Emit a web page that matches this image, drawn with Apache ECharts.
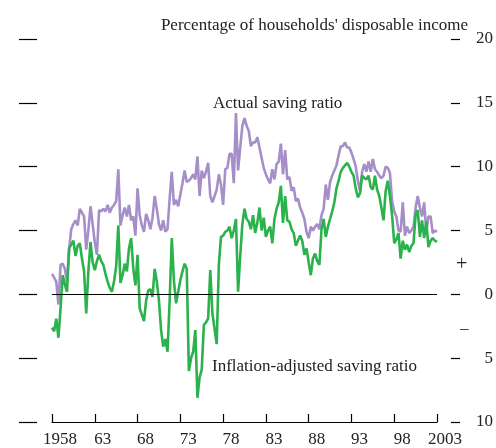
<!DOCTYPE html>
<html>
<head>
<meta charset="utf-8">
<script src="https://cdn.jsdelivr.net/npm/echarts@6/dist/echarts.min.js"></script>
<style>
  html, body { margin: 0; padding: 0; background: #fff; }
  #main { width: 496px; height: 448px; }
</style>
</head>
<body>
<div id="main"></div>
<script>
// quarterly, 1958Q1 .. 2003Q1
var startYear = 1958;
var tickLabels = ['1958', '63', '68', '73', '78', '83', '88', '93', '98', '2003'];

// Actual saving ratio (% of households' disposable income)
var actualSaving = [
  1.6, 1.3, 1.0, -0.8, 2.3, 2.4, 2.0, 1.0, 3.5, 5.1,
  5.5, 5.8, 5.4, 6.7, 6.4, 6.1, 3.5, 5.0, 6.9, 5.5,
  4.1, 3.1, 6.6, 6.5, 6.7, 6.5, 7.0, 6.4, 6.8, 7.0,
  7.3, 9.8, 5.4, 6.2, 6.8, 6.1, 7.0, 5.8, 6.1, 4.6,
  8.3, 6.2, 5.4, 4.9, 6.3, 5.8, 5.1, 6.0, 7.7, 6.7,
  5.5, 5.0, 5.8, 4.9, 5.1, 7.5, 9.6, 7.0, 7.4, 6.9,
  7.8, 8.7, 9.7, 8.8, 8.9, 9.1, 9.4, 9.0, 10.8, 7.7,
  9.7, 9.1, 9.6, 10.3, 7.7, 7.2, 7.7, 8.2, 9.4, 8.6,
  7.0, 9.8, 9.9, 11.0, 11.0, 8.7, 14.2, 9.7, 11.5, 13.2,
  13.8, 13.2, 12.8, 11.6, 11.9, 11.9, 12.3, 11.5, 10.7, 9.9,
  9.4, 9.0, 8.7, 9.8, 9.0, 10.2, 10.4, 11.8, 9.4, 11.3,
  9.0, 9.2, 8.1, 8.4, 7.3, 7.5, 6.8, 6.4, 5.9, 4.9,
  4.4, 5.3, 5.0, 5.3, 5.5, 5.1, 6.2, 6.7, 8.6, 7.4,
  8.8, 9.3, 9.7, 10.1, 10.9, 11.6, 11.6, 11.9, 11.5, 11.5,
  11.1, 10.6, 10.0, 8.9, 8.1, 9.6, 10.2, 9.6, 10.4, 9.6,
  10.6, 9.8, 9.6, 9.3, 9.1, 9.3, 10.0, 9.9, 9.5, 7.3,
  6.5, 6.1, 5.0, 4.9, 7.2, 4.6, 5.3, 4.8, 5.0, 5.3,
  6.8, 7.7, 6.8, 6.1, 7.2, 4.9, 6.1, 6.1, 4.8, 5.0,
  4.9
];

// Inflation-adjusted saving ratio
var adjustedSaving = [
  -2.6, -2.9, -1.9, -3.4, -1.1, 1.5, 0.8, 0.2, 3.6, 3.9,
  4.2, 3.0, 3.8, 4.0, 2.8, 1.8, -1.5, 1.8, 4.1, 2.5,
  1.9, 2.6, 3.1, 2.6, 2.3, 1.6, 1.0, 0.5, 0.2, 1.0,
  2.2, 5.4, 0.9, 1.5, 2.4, 1.8, 3.6, 4.4, 2.0, 0.7,
  3.1, -1.1, -1.6, -2.1, -0.5, 0.3, 0.4, -0.2, 2.0, 1.0,
  -0.5, -2.8, -4.1, -3.5, -4.5, -0.5, 4.4, 1.1, -0.7, 0.2,
  1.1, 1.8, 2.4, 2.0, -6.0, -5.0, -4.5, -2.8, -8.1, -6.5,
  -5.9, -2.4, -2.2, -1.9, 1.9, -1.5, -2.7, -3.9, 2.3, 4.5,
  4.6, 4.9, 5.0, 5.3, 4.4, 5.0, 5.9, 0.2, 3.0, 5.5,
  6.7, 5.9, 5.7, 5.1, 6.2, 4.8, 5.6, 6.8, 5.0, 6.0,
  4.5, 5.0, 5.3, 4.0, 5.9, 6.7, 7.2, 8.5, 5.6, 7.7,
  5.8, 5.7, 5.1, 4.8, 3.8, 4.2, 4.6, 4.2, 3.1, 3.6,
  2.5, 1.5, 2.8, 3.2, 2.6, 2.3, 5.1, 5.9, 4.5, 5.3,
  5.9, 6.5, 7.2, 8.3, 8.9, 9.6, 9.9, 10.1, 10.3, 10.0,
  9.6, 9.3, 8.3, 7.6, 7.9, 9.3, 9.1, 9.0, 9.3, 8.4,
  8.2, 9.3, 8.2, 7.7, 6.8, 5.8, 8.1, 8.9, 7.7, 6.2,
  4.0, 4.3, 4.8, 2.8, 4.2, 3.5, 3.9, 3.3, 3.8, 4.0,
  6.2, 6.6, 4.5, 5.8, 4.4, 5.7, 3.7, 4.2, 4.4, 4.2,
  4.1
];

var quarters = [];
for (var i = 0; i < actualSaving.length; i++) {
  quarters.push((startYear + Math.floor(i / 4)) + 'Q' + (i % 4 + 1));
}

var serif = '"Liberation Serif", "DejaVu Serif", serif';
var isTick = function (idx) { return idx % 20 === 0; };

var myChart = echarts.init(document.getElementById('main'));

var option = {
  animation: false,
  backgroundColor: '#fff',
  grid: { left: 52, right: 59, top: 39, bottom: 24 },
  xAxis: {
    type: 'category',
    data: quarters,
    boundaryGap: false,
    axisLine: { onZero: false, lineStyle: { color: '#000', width: 1.2 } },
    axisTick: { inside: true, length: 8, interval: isTick, lineStyle: { color: '#000', width: 1.2 } },
    axisLabel: {
      interval: isTick,
      formatter: function (v, idx) { return tickLabels[idx / 20]; },
      color: '#222', fontFamily: serif, fontSize: 17, margin: 9,
      padding: [0, 0, 0, 16]
    },
    splitLine: { show: false }
  },
  yAxis: [
    {
      type: 'value', position: 'right', min: -10, max: 20, interval: 5, offset: 14,
      axisLine: { show: false },
      axisTick: { show: true, length: 9, lineStyle: { color: '#000', width: 1.2 } },
      axisLabel: {
        formatter: function (v) { return Math.abs(v); },
        align: 'right', margin: 42,
        color: '#222', fontFamily: serif, fontSize: 17
      },
      splitLine: { show: false }
    },
    {
      type: 'value', position: 'left', min: -10, max: 20, interval: 5, offset: 15,
      axisLine: { show: false },
      axisTick: { show: true, length: 18, lineStyle: { color: '#000', width: 1.2 } },
      axisLabel: { show: false },
      splitLine: { show: false }
    }
  ],
  series: [
    {
      name: 'Actual saving ratio', type: 'line', data: actualSaving,
      showSymbol: false, lineStyle: { color: '#a68fc8', width: 2.6 }, z: 2
    },
    {
      name: 'Inflation-adjusted saving ratio', type: 'line', data: adjustedSaving,
      showSymbol: false, lineStyle: { color: '#2bb24c', width: 2.6 }, z: 3,
      markLine: {
        silent: true, symbol: 'none', label: { show: false },
        lineStyle: { color: '#000', width: 1.2, type: 'solid' },
        data: [{ yAxis: 0 }]
      }
    }
  ],
  graphic: [
    { type: 'text', right: 28, top: 17,
      style: { text: "Percentage of households' disposable income", fill: '#222', font: '17px ' + serif } },
    { type: 'text', left: 213, top: 95,
      style: { text: 'Actual saving ratio', fill: '#222', font: '17px ' + serif } },
    { type: 'text', left: 212, top: 358,
      style: { text: 'Inflation-adjusted saving ratio', fill: '#222', font: '17px ' + serif } },
    { type: 'text', left: 456, top: 255,
      style: { text: '+', fill: '#222', font: '20px ' + serif } },
    { type: 'text', left: 460, top: 320,
      style: { text: '\u2013', fill: '#222', font: '17px ' + serif } }
  ]
};

myChart.setOption(option);
</script>
</body>
</html>
